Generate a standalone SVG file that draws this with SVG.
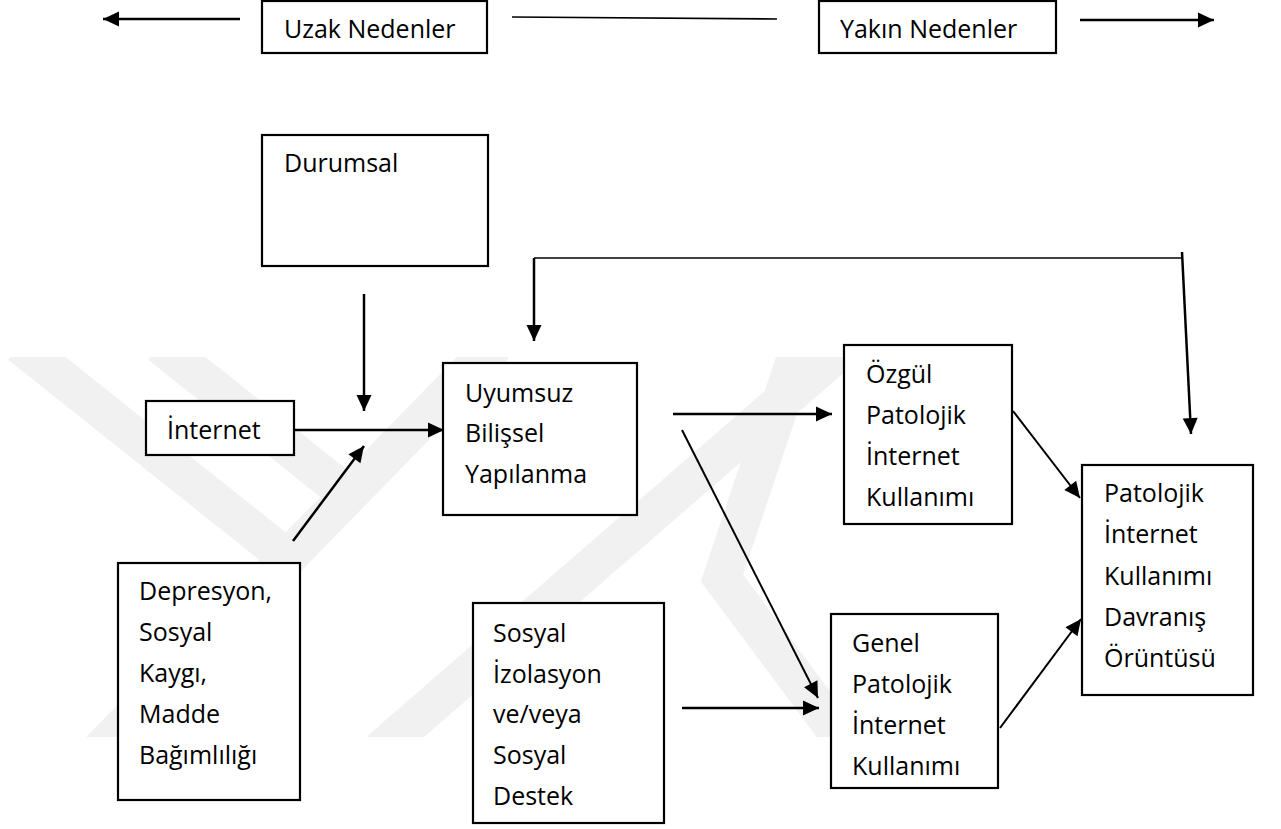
<svg xmlns="http://www.w3.org/2000/svg" width="1281" height="829" viewBox="0 0 1281 829">
  <style>
    .box { fill: #ffffff; stroke: #000000; stroke-width: 2.2; }
    .lbl { font-family: "Open Sans", "Noto Sans", "DejaVu Sans", sans-serif; font-size: 25px; fill: #000000; }
    .arr { fill: none; stroke: #000000; stroke-width: 2.5; }
    .diag { fill: none; stroke: #000000; stroke-width: 2; }
    .thin { fill: none; stroke: #000000; stroke-width: 1.6; }
    .wm { fill: none; stroke: #f1f1f1; stroke-width: 38; stroke-linejoin: miter; }
  </style>
  <defs>
    <marker id="ah" markerUnits="userSpaceOnUse" markerWidth="18" markerHeight="16" refX="16" refY="7.5" orient="auto" overflow="visible">
      <path d="M0,0 L16,7.5 L0,15 Z" fill="#000000"/>
    </marker>
    <clipPath id="wmclip">
      <rect x="0" y="357" width="1281" height="380"/>
    </clipPath>
  </defs>
  <rect x="0" y="0" width="1281" height="829" fill="#ffffff"/>

  <g id="watermark" clip-path="url(#wmclip)">
    <path class="wm" d="M20 345 L290 560"/>
    <path class="wm" d="M100 750 L495 345"/>
    <path class="wm" d="M160 345 L352 498"/>
    <path class="wm" d="M380 750 L847 345"/>
    <path class="wm" d="M800 345 L722 578 L850 750"/>
  </g>

  <g id="connectors">
    <path class="arr" d="M240 19 L103 19" marker-end="url(#ah)"/>
    <path class="thin" d="M512 17 L777 19"/>
    <path class="arr" d="M1080 20 L1214 20" marker-end="url(#ah)"/>
    <path class="arr" d="M364 294 L364 411" marker-end="url(#ah)"/>
    <path class="arr" d="M294 430 L444 430" marker-end="url(#ah)"/>
    <path class="arr" d="M293 541 L364 446" marker-end="url(#ah)"/>
    <path class="thin" d="M534 258 L1183 258"/>
    <path class="arr" d="M534 258 L534 341" marker-end="url(#ah)"/>
    <path class="arr" d="M1182 252 L1191 434" marker-end="url(#ah)"/>
    <path class="arr" d="M673 414 L832 414" marker-end="url(#ah)"/>
    <path class="diag" d="M682 430 L818 698" marker-end="url(#ah)"/>
    <path class="arr" d="M682 708 L819 708" marker-end="url(#ah)"/>
    <path class="diag" d="M1013 411 L1080 498" marker-end="url(#ah)"/>
    <path class="diag" d="M1000 728 L1081 619" marker-end="url(#ah)"/>
  </g>

  <g id="uzak">
    <rect class="box" x="262" y="1" width="225" height="52"/>
    <text class="lbl" x="284" y="38">Uzak Nedenler</text>
  </g>
  <g id="yakin">
    <rect class="box" x="819" y="1" width="237" height="52"/>
    <text class="lbl" x="840" y="38">Yakın Nedenler</text>
  </g>
  <g id="durumsal">
    <rect class="box" x="262" y="135" width="226" height="131"/>
    <text class="lbl" x="284" y="172">Durumsal</text>
  </g>
  <g id="internet">
    <rect class="box" x="146" y="401" width="148" height="54"/>
    <text class="lbl" x="167" y="439">İnternet</text>
  </g>
  <g id="depresyon">
    <rect class="box" x="118" y="563" width="182" height="237"/>
    <text class="lbl" x="139" y="600">Depresyon,</text>
    <text class="lbl" x="139" y="641">Sosyal</text>
    <text class="lbl" x="139" y="682">Kaygı,</text>
    <text class="lbl" x="139" y="723">Madde</text>
    <text class="lbl" x="139" y="764">Bağımlılığı</text>
  </g>
  <g id="uyumsuz">
    <rect class="box" x="443" y="363" width="194" height="152"/>
    <text class="lbl" x="465" y="402">Uyumsuz</text>
    <text class="lbl" x="465" y="442">Bilişsel</text>
    <text class="lbl" x="465" y="483">Yapılanma</text>
  </g>
  <g id="sosyal">
    <rect class="box" x="473" y="603" width="191" height="220"/>
    <text class="lbl" x="493" y="642">Sosyal</text>
    <text class="lbl" x="493" y="683">İzolasyon</text>
    <text class="lbl" x="493" y="723">ve/veya</text>
    <text class="lbl" x="493" y="764">Sosyal</text>
    <text class="lbl" x="493" y="805">Destek</text>
  </g>
  <g id="ozgul">
    <rect class="box" x="844" y="345" width="168" height="179"/>
    <text class="lbl" x="866" y="383">Özgül</text>
    <text class="lbl" x="866" y="424">Patolojik</text>
    <text class="lbl" x="866" y="465">İnternet</text>
    <text class="lbl" x="866" y="506">Kullanımı</text>
  </g>
  <g id="genel">
    <rect class="box" x="831" y="614" width="167" height="174"/>
    <text class="lbl" x="852" y="652">Genel</text>
    <text class="lbl" x="852" y="693">Patolojik</text>
    <text class="lbl" x="852" y="734">İnternet</text>
    <text class="lbl" x="852" y="775">Kullanımı</text>
  </g>
  <g id="patolojik">
    <rect class="box" x="1082" y="465" width="171" height="230"/>
    <text class="lbl" x="1104" y="502">Patolojik</text>
    <text class="lbl" x="1104" y="543">İnternet</text>
    <text class="lbl" x="1104" y="585">Kullanımı</text>
    <text class="lbl" x="1104" y="626">Davranış</text>
    <text class="lbl" x="1104" y="667">Örüntüsü</text>
  </g>
</svg>
